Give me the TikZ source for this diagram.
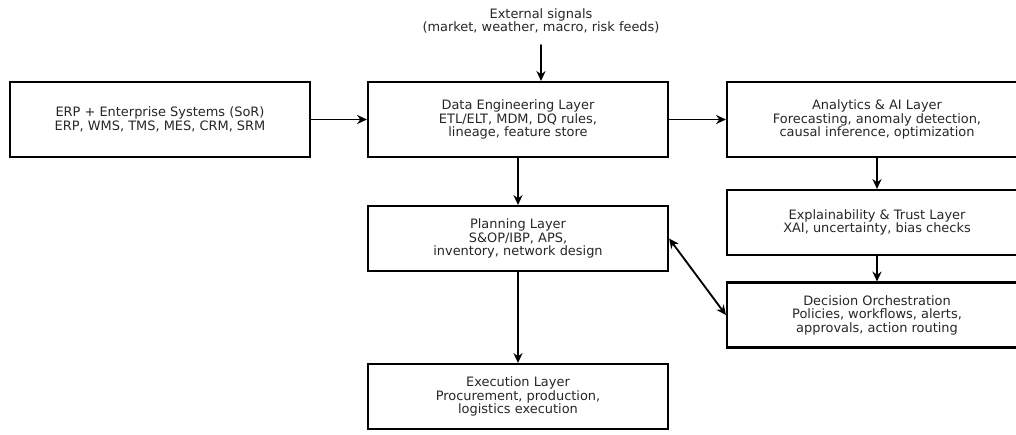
\documentclass[tikz,border=0pt]{standalone}
\usepackage{fontspec}
\setmainfont{DejaVu Sans}
\usetikzlibrary{arrows.meta}

\begin{document}
\begin{tikzpicture}[>={Stealth[length=7pt,width=6.5pt]}, line cap=round, x=0.025cm, y=-0.025cm,
  layer/.style={draw, line width=1.5pt, align=center, minimum width=7.5cm, inner sep=0pt,
    text=black!85, font=\fontsize{9.2}{9.6}\selectfont},
  tall/.style={layer, minimum height=1.875cm},
  short/.style={layer, minimum height=1.625cm},
  flow/.style={->, line width=1.3pt}]

  \clip (0,0) rectangle (1016,434);

  %--------------------------
  % Sources and data
  %--------------------------
  \node[align=center, text=black!85, font=\fontsize{9.2}{9.6}\selectfont] (ext) at (541,21)
    {External signals\\(market, weather, macro, risk feeds)};
  \coordinate (sig) at (541,45);

  \node[tall] (erp) at (160,119.5) {ERP + Enterprise Systems (SoR)\\ERP, WMS, TMS, MES, CRM, SRM};
  \node[tall] (data) at (518,119.5) {Data Engineering Layer\\ETL/ELT, MDM, DQ rules,\\lineage, feature store};

  %--------------------------
  % Intelligence column
  %--------------------------
  \node[tall] (ai) at (877,119.5) {Analytics \& AI Layer\\Forecasting, anomaly detection,\\causal inference, optimization};
  \node[short] (xai) at (877,222.5) {Explainability \& Trust Layer\\XAI, uncertainty, bias checks};
  \node[short] (dec) at (877,315) {Decision Orchestration\\Policies, workflows, alerts,\\approvals, action routing};

  %--------------------------
  % Planning and execution
  %--------------------------
  \node[short] (plan) at (518,238.5) {Planning Layer\\S\&OP/IBP, APS,\\inventory, network design};
  \node[short] (exec) at (518,396.5) {Execution Layer\\Procurement, production,\\logistics execution};

  % Flows
  \draw[flow] (sig) -- (sig |- data.north);
  \draw[flow] (erp) -- (data);
  \draw[flow] (data) -- (ai);
  \draw[flow] (data) -- (plan);
  \draw[flow] (ai) -- (xai);
  \draw[flow] (xai) -- (dec);
  \draw[flow] (plan) -- (exec);
  \draw[flow, <->] (plan.east) -- (dec.west);

\end{tikzpicture}
\end{document}
